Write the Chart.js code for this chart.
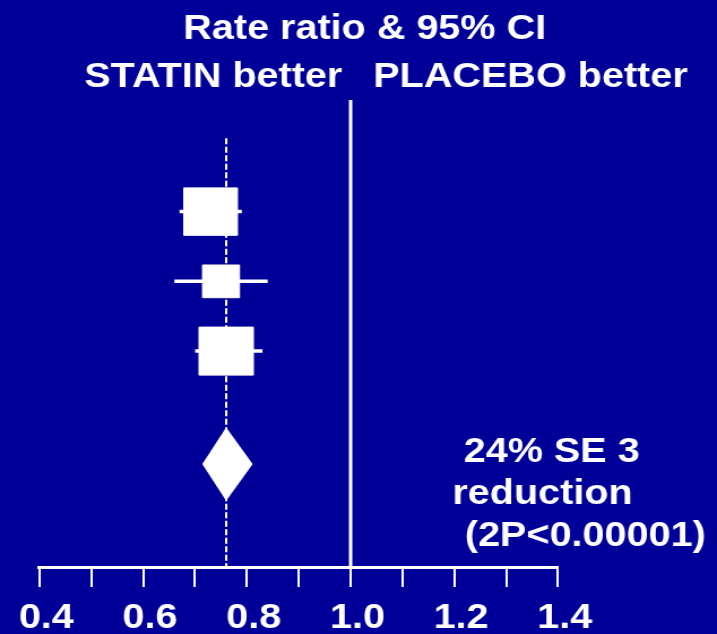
<!DOCTYPE html>
<html>
<head>
<meta charset="utf-8">
<script src="https://cdn.jsdelivr.net/npm/chart.js@4/dist/chart.umd.min.js"></script>
<style>
  html, body { margin: 0; padding: 0; background: #000099; overflow: hidden; }
  /* drawn on a square canvas, shown widened to the 717px slide width */
  #forest { display: block; width: 717px; height: 634px; }
</style>
</head>
<body>
<canvas id="forest" width="634" height="634" style="width:717px;height:634px"></canvas>
<script>
// Trial subgroups: rate ratio with 95% confidence interval
const groups     = ['Trial A', 'Trial B', 'Trial C'];
const ratios     = [0.73, 0.75, 0.76];
const ciLow      = [0.67, 0.66, 0.70];
const ciHigh     = [0.79, 0.84, 0.83];
const weights    = [40, 19, 41];          // % of total information

// Overall result
const reductionPct = 24;
const reductionSE  = 3;
const pValueText   = '2P<0.00001';
const overallLow   = 0.715;
const overallHigh  = 0.81;
const overallRatio = 1 - reductionPct / 100;

// Axis
const xMin = 0.4, xMax = 1.4, xStep = 0.1;
const tickLabels = ['0.4', '0.6', '0.8', '1.0', '1.2', '1.4'];

// Row layout on the hidden vertical scale
const yMin = -0.6, yMax = 6.095;
const overallRow = 4.62;
const diamondHalf = 0.514;

const WHITE = '#ffffff';
const FONT = '"Liberation Sans", Arial, Helvetica, sans-serif';

const squareSide = w => 7.5 * Math.sqrt(w);

const ciSets = groups.map((g, i) => ({
  label: g + ' CI',
  data: [{ x: ciLow[i], y: i + 1 }, { x: ciHigh[i], y: i + 1 }],
  showLine: true,
  borderColor: WHITE,
  borderWidth: 3.5,
  pointRadius: 0,
  order: 2
}));

const backdrop = {
  id: 'backdrop',
  beforeDraw(chart) {
    const ctx = chart.ctx;
    ctx.save();
    ctx.fillStyle = '#000099';
    ctx.fillRect(0, 0, chart.width, chart.height);
    ctx.restore();
  }
};

const captions = {
  id: 'captions',
  afterDraw(chart) {
    const ctx = chart.ctx;
    ctx.save();
    ctx.fillStyle = WHITE;
    ctx.font = 'bold 35px ' + FONT;
    ctx.textBaseline = 'alphabetic';
    ctx.textAlign = 'left';
    ctx.fillText('Rate ratio & 95% CI', 162, 38.5);
    ctx.fillText('STATIN better', 74.5, 86.5);
    ctx.fillText('PLACEBO better', 330, 86.5);
    ctx.fillText(reductionPct + '% SE ' + reductionSE, 410, 462);
    ctx.fillText('reduction', 400, 504);
    ctx.fillText('(' + pValueText + ')', 411, 545.5);
    ctx.restore();
  }
};

new Chart(document.getElementById('forest'), {
  type: 'scatter',
  data: {
    datasets: [
      {
        label: 'Rate ratio',
        data: groups.map((g, i) => ({ x: ratios[i], y: i + 1 })),
        pointStyle: 'rect',
        pointRadius: weights.map(w => squareSide(w) / Math.SQRT2),
        backgroundColor: WHITE,
        borderColor: WHITE,
        borderWidth: 1,
        order: 0
      },
      {
        label: 'Overall',
        data: [
          { x: overallLow, y: overallRow },
          { x: overallRatio, y: overallRow - diamondHalf },
          { x: overallHigh, y: overallRow },
          { x: overallRatio, y: overallRow + diamondHalf },
          { x: overallLow, y: overallRow }
        ],
        showLine: true,
        fill: 'shape',
        backgroundColor: WHITE,
        borderColor: WHITE,
        borderWidth: 1,
        pointRadius: 0,
        order: 1
      },
      ...ciSets,
      {
        label: 'Overall ratio',
        data: [{ x: overallRatio, y: -0.05 }, { x: overallRatio, y: yMax }],
        showLine: true,
        borderColor: WHITE,
        borderWidth: 2,
        borderDash: [6, 2.5],
        pointRadius: 0,
        order: 3
      },
      {
        label: 'No effect',
        data: [{ x: 1, y: yMin }, { x: 1, y: yMax }],
        showLine: true,
        borderColor: WHITE,
        borderWidth: 3,
        pointRadius: 0,
        order: 4
      }
    ]
  },
  options: {
    responsive: false,
    animation: false,
    events: [],
    layout: { padding: { left: 33.6, right: 140.6, top: 100, bottom: 0 } },
    plugins: {
      legend: { display: false },
      tooltip: { enabled: false },
      title: { display: false }
    },
    scales: {
      x: {
        type: 'linear',
        position: 'bottom',
        min: xMin,
        max: xMax,
        afterFit: scale => { scale.height = 67; },
        grid: {
          display: true,
          drawOnChartArea: false,
          drawTicks: true,
          tickLength: 20,
          color: WHITE,
          lineWidth: 2
        },
        border: { display: true, color: WHITE, width: 3 },
        ticks: {
          stepSize: xStep,
          autoSkip: false,
          maxRotation: 0,
          padding: 10,
          labelOffset: 6,
          color: WHITE,
          font: { family: FONT, size: 35, weight: 'bold' },
          callback: v => {
            const s = Number(v).toFixed(1);
            return tickLabels.includes(s) ? s : '';
          }
        }
      },
      y: {
        type: 'linear',
        display: false,
        reverse: true,
        min: yMin,
        max: yMax
      }
    }
  },
  plugins: [backdrop, captions]
});
</script>
</body>
</html>
